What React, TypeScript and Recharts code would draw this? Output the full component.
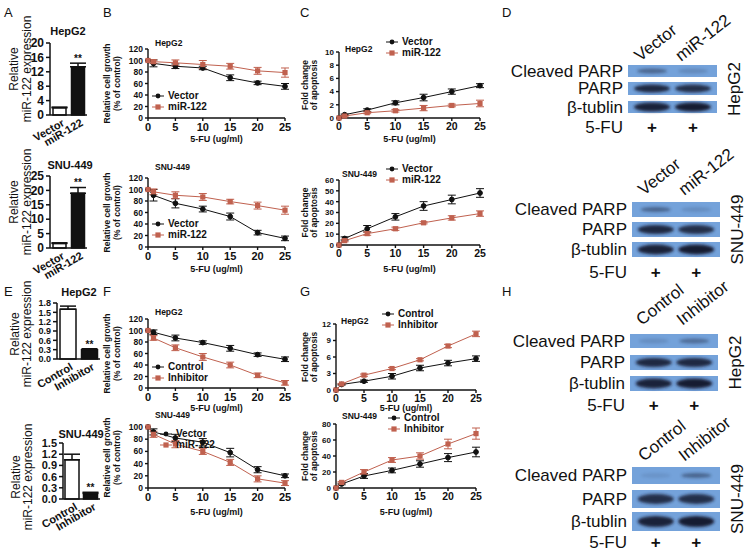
import { LineChart, Line, XAxis, YAxis, ErrorBar, BarChart, Bar, Cell, LabelList } from "recharts"

const FONT = 'Arial, "Liberation Sans", Helvetica, sans-serif'
const INK = "#111111"
const RED = "#c0614f"

// 5-FU doses (ug/ml)
const doses = [0, 1, 5, 10, 15, 20, 25]
const doseTicks = [0, 5, 10, 15, 20, 25]

// B: relative cell growth (% of control), miR-122 overexpression
const growthHepVector = [100, 95, 90, 87, 70, 61, 55]
const growthHepVectorErr = [0, 6, 4, 3, 5, 3, 5]
const growthHepMiR = [100, 98, 96, 93, 90, 82, 79]
const growthHepMiRErr = [0, 3, 5, 7, 5, 6, 8]
const growthSnuVector = [100, 90, 76, 66, 53, 25, 15]
const growthSnuVectorErr = [0, 10, 8, 5, 6, 4, 4]
const growthSnuMiR = [100, 96, 90, 87, 79, 72, 64]
const growthSnuMiRErr = [0, 5, 6, 6, 4, 6, 7]

// C: fold change of apoptosis, miR-122 overexpression
const apoHepVector = [0, 0.5, 1.2, 2.3, 3.1, 4.0, 4.9]
const apoHepVectorErr = [0, 0.1, 0.2, 0.3, 0.5, 0.4, 0.3]
const apoHepMiR = [0, 0.3, 0.8, 1.1, 1.5, 1.9, 2.2]
const apoHepMiRErr = [0, 0.1, 0.15, 0.2, 0.4, 0.2, 0.5]
const apoSnuVector = [0, 6, 15, 26, 36, 42, 48]
const apoSnuVectorErr = [0, 1.5, 3, 3, 4, 4, 4]
const apoSnuMiR = [0, 4, 10.5, 15, 20.5, 25, 29]
const apoSnuMiRErr = [0, 1, 1.5, 1.5, 1, 2, 2.5]

// F: relative cell growth, inhibitor
const growthHepControl = [100, 97, 87, 79, 69, 58, 50]
const growthHepControlErr = [0, 4, 5, 3, 5, 3, 4]
const growthHepInhibitor = [100, 87, 70, 54, 40, 22, 9]
const growthHepInhibitorErr = [0, 4, 5, 6, 5, 4, 4]
const growthSnuBlack = [100, 92, 82, 75, 58, 30, 20]
const growthSnuBlackErr = [0, 5, 6, 6, 7, 5, 3]
const growthSnuRed = [100, 88, 72, 60, 42, 15, 8]
const growthSnuRedErr = [0, 5, 6, 5, 5, 5, 4]

// G: fold change of apoptosis, inhibitor
const apoHepControl = [0, 1.0, 1.6, 2.5, 4.0, 4.9, 5.7]
const apoHepControlErr = [0, 0.1, 0.2, 0.5, 0.5, 0.5, 0.5]
const apoHepInhibitor = [0, 1.1, 2.7, 3.9, 5.5, 8.0, 10.2]
const apoHepInhibitorErr = [0, 0.1, 0.2, 0.2, 0.2, 0.3, 0.5]
const apoSnuControl = [0, 5, 15, 22, 30, 38, 45]
const apoSnuControlErr = [0, 1, 3, 3, 4, 5, 6]
const apoSnuInhibitor = [0, 7, 20, 35, 40, 55, 68]
const apoSnuInhibitorErr = [0, 1, 3, 3, 4, 6, 7]

// A / E: relative miR-122 expression
const overCats = ["Vector", "miR-122"]
const inhibCats = ["Control", "Inhibitor"]
const sigMarks = ["", "**"]
const exprHepA = [2.0, 13.4]
const exprHepAErr = [0.2, 1.0]
const exprSnuA = [1.6, 19.0]
const exprSnuAErr = [0.2, 2.0]
const exprHepE = [1.6, 0.3]
const exprHepEErr = [0.1, 0.03]
const exprSnuE = [1.05, 0.15]
const exprSnuEErr = [0.15, 0.03]

const rowsOf = (a: number[], aErr: number[], b: number[], bErr: number[]) =>
  doses.map((d, i) => ({ dose: d, a: a[i], aErr: aErr[i], b: b[i], bErr: bErr[i] }))

const barsOf = (cats: string[], vals: number[], errs: number[]) =>
  cats.map((c, i) => ({ name: c, value: vals[i], err: [0, errs[i]], sig: sigMarks[i] }))

function StackedYLabel(props: any) {
  const { viewBox, lines, xs, fontSize, fontWeight, dy = 0 } = props
  if (!viewBox) return null
  const cy = viewBox.y + viewBox.height / 2 + dy
  return (
    <g>
      {lines.map((t: string, i: number) => {
        const x = xs[i]
        return (
          <text key={i} x={x} y={cy} transform={`rotate(-90 ${x} ${cy})`} textAnchor="middle"
            dominantBaseline="central" fontSize={fontSize} fontWeight={fontWeight} fill={INK} fontFamily={FONT}>
            {t}
          </text>
        )
      })}
    </g>
  )
}

const squareDot = (color: string) => (p: any) => (
  <rect key={`sq-${p.index}`} x={p.cx - 2.6} y={p.cy - 2.6} width={5.2} height={5.2} fill={color} />
)

function LinePanel(props: any) {
  const { frame, plot, rows, yDomain, yTicks, yLabel, yLabelXs, yTickFont, xTickFont, title, legend } = props
  const [left, top, width, height] = frame
  const [x0, x1, y0, y1] = plot
  const axis = { stroke: INK, strokeWidth: 1.4 }
  return (
    <div style={{ position: "absolute", left, top }}>
      <LineChart width={width} height={height} data={rows}
        margin={{ top: y0 - top, right: left + width - x1, bottom: 0, left: 0 }}>
        <XAxis dataKey="dose" type="number" domain={[0, 25]} ticks={doseTicks} interval={0} height={top + height - y1}
          axisLine={axis} tickLine={axis} tickSize={3}
          tick={{ fontSize: xTickFont, fontWeight: 700, fill: INK, fontFamily: FONT }}
          label={{ value: "5-FU (ug/ml)", position: "insideBottom", offset: 3, fontSize: 9, fontWeight: 700, fill: INK, fontFamily: FONT }} />
        <YAxis width={x0 - left} domain={yDomain} ticks={yTicks} interval={0} axisLine={axis} tickLine={axis} tickSize={3}
          tick={{ fontSize: yTickFont, fontWeight: 700, fill: INK, fontFamily: FONT }}
          label={<StackedYLabel lines={yLabel} xs={yLabelXs} fontSize={8.5} fontWeight={700} />} />
        <Line dataKey="a" stroke={INK} strokeWidth={1} isAnimationActive={false}
          dot={{ r: 2.4, fill: INK, stroke: INK }}>
          <ErrorBar dataKey="aErr" width={4} stroke={INK} strokeWidth={1} direction="y" />
        </Line>
        <Line dataKey="b" stroke={RED} strokeWidth={1} isAnimationActive={false} dot={squareDot(RED)}>
          <ErrorBar dataKey="bErr" width={4} stroke={RED} strokeWidth={1} direction="y" />
        </Line>
      </LineChart>
      <div style={{ position: "absolute", left: title.x - left, top: title.y - top - 6, fontSize: 8.5, fontWeight: 700, fontFamily: FONT, color: INK, whiteSpace: "nowrap" }}>
        {title.text}
      </div>
      {legend.names.map((n: string, i: number) => (
        <div key={n} style={{ position: "absolute", left: legend.x - left, top: legend.y - top + i * 10.5 - 6, display: "flex", alignItems: "center", whiteSpace: "nowrap" }}>
          <svg width={12} height={12}>
            <line x1={0} y1={6} x2={12} y2={6} stroke={i === 0 ? INK : RED} strokeWidth={1} />
            {i === 0 ? <circle cx={6} cy={6} r={2.4} fill={INK} /> : <rect x={3.4} y={3.4} width={5.2} height={5.2} fill={RED} />}
          </svg>
          <span style={{ marginLeft: 4, fontSize: 10, fontWeight: 700, fontFamily: FONT, color: INK, lineHeight: "12px" }}>{n}</span>
        </div>
      ))}
    </div>
  )
}

const SlantTick = (props: any) => {
  const { x, y, payload } = props
  return (
    <text transform={`translate(${x + 6},${y + 2}) rotate(-30)`} textAnchor="end" fontSize={11} fontWeight={700}
      fill={INK} fontFamily={FONT}>
      {payload.value}
    </text>
  )
}

function BarPanel(props: any) {
  const { frame, plot, rows, yDomain, yTicks, title, barSize, starOffset, decimals, labelXs, labelDy, tickFont = 12 } = props
  const [left, top, width, height] = frame
  const [x0, x1, y0, y1] = plot
  const axis = { stroke: INK, strokeWidth: 1.5 }
  return (
    <div style={{ position: "absolute", left, top }}>
      <BarChart width={width} height={height} data={rows}
        margin={{ top: y0 - top, right: left + width - x1, bottom: 0, left: 0 }}>
        <XAxis dataKey="name" height={top + height - y1} axisLine={axis} tickLine={false} tick={<SlantTick />} interval={0} />
        <YAxis width={x0 - left} domain={yDomain} ticks={yTicks} interval={0} axisLine={axis} tickLine={axis} tickSize={4}
          tickFormatter={(v: number) => (decimals ? v.toFixed(decimals) : String(v))}
          tick={{ fontSize: tickFont, fontWeight: 700, fill: INK, fontFamily: FONT }}
          label={<StackedYLabel lines={["Relative", "miR-122 expression"]} xs={labelXs} dy={labelDy} fontSize={12} fontWeight={400} />} />
        <Bar dataKey="value" barSize={barSize} stroke={INK} strokeWidth={1.5} isAnimationActive={false}>
          {rows.map((r: any, i: number) => (
            <Cell key={r.name} fill={i === 0 ? "#ffffff" : INK} />
          ))}
          <ErrorBar dataKey="err" width={8} stroke={INK} strokeWidth={1.5} direction="y" />
          <LabelList dataKey="sig" position="top" offset={starOffset} fontSize={10} fontWeight={700} fill={INK} fontFamily={FONT} />
        </Bar>
      </BarChart>
      <div style={{ position: "absolute", left: title.x - left, top: title.y - top - 7, transform: "translateX(-50%)", fontSize: 11, fontWeight: 700, fontFamily: FONT, color: INK, whiteSpace: "nowrap" }}>
        {title.text}
      </div>
    </div>
  )
}

function Blot(props: any) {
  const { x0, x1, rows, cols, colY, side, fuY } = props
  const w = x1 - x0
  const lanes = [x0 + w * 0.27, x0 + w * 0.73]
  const midY = (rows[0].y0 + rows[rows.length - 1].y1) / 2
  const sx = x1 + 17
  return (
    <g fontFamily={FONT} fill={INK}>
      {rows.map((r: any) => (
        <g key={r.label}>
          <rect x={x0} y={r.y0} width={w} height={r.y1 - r.y0} fill="#74a2da" />
          {r.bands.map((a: number, i: number) => (
            <ellipse key={i} cx={lanes[i]} cy={(r.y0 + r.y1) / 2} rx={r.rx} ry={r.ry} fill="#141a33" opacity={a} filter="url(#blur)" />
          ))}
          <text x={x0 - 5} y={(r.y0 + r.y1) / 2} textAnchor="end" dominantBaseline="central" fontSize={17}>{r.label}</text>
        </g>
      ))}
      <text x={x0 - 5} y={fuY} textAnchor="end" dominantBaseline="central" fontSize={17}>5-FU</text>
      {lanes.map((lx, i) => (
        <text key={i} x={lx} y={fuY} textAnchor="middle" dominantBaseline="central" fontSize={17} fontWeight={700}>+</text>
      ))}
      {cols.map((c: string, i: number) => (
        <text key={c} transform={`translate(${lanes[i] - 12},${colY}) rotate(-38)`} fontSize={17}>{c}</text>
      ))}
      <text x={sx} y={midY} transform={`rotate(-90 ${sx} ${midY})`} textAnchor="middle" dominantBaseline="central" fontSize={17}>{side}</text>
    </g>
  )
}

const band = (label: string, y0: number, y1: number, bands: number[], rx: number, ry: number) => ({ label, y0, y1, bands, rx, ry })

const letters = [
  ["A", 4, 8], ["B", 103, 8], ["C", 300, 8], ["D", 502, 8],
  ["E", 4, 287], ["F", 103, 287], ["G", 300, 287], ["H", 502, 287],
] as const

export default function App() {
  const growthTicks = [0, 20, 40, 60, 80, 100, 120]
  const growthLabel = ["Relative cell growth", "(% of control)"]
  const apoLabel = ["Fold change", "of apoptosis"]
  return (
    <div style={{ position: "absolute", left: 0, top: 0, width: 750, height: 552, background: "#fff", fontFamily: FONT, overflow: "hidden" }}>
      {letters.map(([t, x, y]) => (
        <div key={t} style={{ position: "absolute", left: x, top: y - 3, fontSize: 13, color: INK }}>{t}</div>
      ))}

      <BarPanel frame={[0, 0, 100, 148]} plot={[50, 87, 43, 115]} rows={barsOf(overCats, exprHepA, exprHepAErr)} labelXs={[14, 27]} labelDy={-10}
        yDomain={[0, 20]} yTicks={[0, 4, 8, 12, 16, 20]} title={{ text: "HepG2", x: 68, y: 32 }} barSize={13} starOffset={5} />
      <BarPanel frame={[0, 140, 100, 140]} plot={[50, 87, 176, 248]} rows={barsOf(overCats, exprSnuA, exprSnuAErr)} labelXs={[14, 27]} labelDy={-10}
        yDomain={[0, 25]} yTicks={[0, 5, 10, 15, 20, 25]} title={{ text: "SNU-449", x: 70, y: 166 }} barSize={13} starOffset={7} />
      <BarPanel frame={[0, 272, 105, 123]} plot={[57, 100, 303, 359]} rows={barsOf(inhibCats, exprHepE, exprHepEErr)} labelXs={[15, 27]} labelDy={3}
        yDomain={[0, 1.8]} yTicks={[0, 0.3, 0.6, 0.9, 1.2, 1.5, 1.8]} decimals={1} tickFont={9} title={{ text: "HepG2", x: 79, y: 293 }} barSize={16} starOffset={2} />
      <BarPanel frame={[0, 415, 105, 135]} plot={[63, 100, 443, 499]} rows={barsOf(inhibCats, exprSnuE, exprSnuEErr)} labelXs={[16, 28]} labelDy={6}
        yDomain={[0, 1.5]} yTicks={[0, 0.3, 0.6, 0.9, 1.2, 1.5]} decimals={1} tickFont={11} title={{ text: "SNU-449", x: 81, y: 435 }} barSize={14} starOffset={2} />

      <LinePanel frame={[100, 20, 195, 125]} plot={[148, 285, 49, 118]}
        rows={rowsOf(growthHepVector, growthHepVectorErr, growthHepMiR, growthHepMiRErr)}
        yDomain={[0, 120]} yTicks={growthTicks} yLabel={growthLabel} yLabelXs={[7, 17]} yTickFont={8.5} xTickFont={11}
        title={{ text: "HepG2", x: 155, y: 44 }} legend={{ names: ["Vector", "miR-122"], x: 152, y: 96 }} />
      <LinePanel frame={[100, 150, 195, 125]} plot={[148, 285, 178, 247]}
        rows={rowsOf(growthSnuVector, growthSnuVectorErr, growthSnuMiR, growthSnuMiRErr)}
        yDomain={[0, 120]} yTicks={growthTicks} yLabel={growthLabel} yLabelXs={[7, 17]} yTickFont={8.5} xTickFont={11}
        title={{ text: "SNU-449", x: 155, y: 168 }} legend={{ names: ["Vector", "miR-122"], x: 152, y: 224 }} />
      <LinePanel frame={[100, 295, 195, 119]} plot={[148, 285, 319, 388]}
        rows={rowsOf(growthHepControl, growthHepControlErr, growthHepInhibitor, growthHepInhibitorErr)}
        yDomain={[0, 120]} yTicks={growthTicks} yLabel={growthLabel} yLabelXs={[7, 17]} yTickFont={8.5} xTickFont={11}
        title={{ text: "HepG2", x: 155, y: 313 }} legend={{ names: ["Control", "Inhibitor"], x: 152, y: 367 }} />
      <LinePanel frame={[100, 405, 195, 113]} plot={[148, 285, 427, 488]}
        rows={rowsOf(growthSnuBlack, growthSnuBlackErr, growthSnuRed, growthSnuRedErr)}
        yDomain={[0, 100]} yTicks={[0, 20, 40, 60, 80, 100]} yLabel={growthLabel} yLabelXs={[7, 17]} yTickFont={8.5} xTickFont={11}
        title={{ text: "SNU-449", x: 155, y: 416 }} legend={{ names: ["Vector", "miR-122"], x: 160, y: 434 }} />

      <LinePanel frame={[300, 20, 190, 125]} plot={[339, 480, 52, 118]}
        rows={rowsOf(apoHepVector, apoHepVectorErr, apoHepMiR, apoHepMiRErr)}
        yDomain={[0, 10]} yTicks={[0, 2, 4, 6, 8, 10]} yLabel={apoLabel} yLabelXs={[5, 14]} yTickFont={8} xTickFont={10.5}
        title={{ text: "HepG2", x: 345, y: 50 }} legend={{ names: ["Vector", "miR-122"], x: 386, y: 42 }} />
      <LinePanel frame={[300, 150, 190, 125]} plot={[339, 480, 180, 245]}
        rows={rowsOf(apoSnuVector, apoSnuVectorErr, apoSnuMiR, apoSnuMiRErr)}
        yDomain={[0, 60]} yTicks={[0, 10, 20, 30, 40, 50, 60]} yLabel={apoLabel} yLabelXs={[5, 14]} yTickFont={8} xTickFont={10.5}
        title={{ text: "SNU-449", x: 342, y: 175 }} legend={{ names: ["Vector", "miR-122"], x: 386, y: 169 }} />
      <LinePanel frame={[300, 295, 186, 119]} plot={[336, 476, 324, 390]}
        rows={rowsOf(apoHepControl, apoHepControlErr, apoHepInhibitor, apoHepInhibitorErr)}
        yDomain={[0, 12]} yTicks={[0, 3, 6, 9, 12]} yLabel={apoLabel} yLabelXs={[5, 14]} yTickFont={8} xTickFont={10.5}
        title={{ text: "HepG2", x: 341, y: 322 }} legend={{ names: ["Control", "Inhibitor"], x: 382, y: 314 }} />
      <LinePanel frame={[300, 405, 186, 113]} plot={[336, 476, 424, 488]}
        rows={rowsOf(apoSnuControl, apoSnuControlErr, apoSnuInhibitor, apoSnuInhibitorErr)}
        yDomain={[0, 80]} yTicks={[0, 20, 40, 60, 80]} yLabel={apoLabel} yLabelXs={[5, 14]} yTickFont={8} xTickFont={10.5}
        title={{ text: "SNU-449", x: 342, y: 417 }} legend={{ names: ["Control", "Inhibitor"], x: 388, y: 418 }} />

      <svg width={750} height={552} style={{ position: "absolute", left: 0, top: 0, pointerEvents: "none" }}>
        <defs>
          <filter id="blur" x="-50%" y="-100%" width="200%" height="300%">
            <feGaussianBlur stdDeviation="1.6" />
          </filter>
        </defs>
        <Blot x0={628} x1={717} colY={62} fuY={127} side="HepG2" cols={["Vector", "miR-122"]}
          rows={[band("Cleaved PARP", 65, 77, [0.45, 0.18], 15, 2.5), band("PARP", 82, 95, [0.9, 0.85], 18, 4), band("β-tublin", 101, 113, [0.95, 1], 18, 4.5)]} />
        <Blot x0={632} x1={720} colY={196} fuY={272} side="SNU-449" cols={["Vector", "miR-122"]}
          rows={[band("Cleaved PARP", 202, 217, [0.45, 0.15], 15, 2.5), band("PARP", 222, 237, [0.9, 0.85], 18, 4.5), band("β-tublin", 242, 257, [0.95, 1], 18, 5)]} />
        <Blot x0={630} x1={718} colY={326} fuY={405} side="HepG2" cols={["Control", "Inhibitor"]}
          rows={[band("Cleaved PARP", 334, 348, [0.15, 0.4], 15, 2.5), band("PARP", 355, 370, [0.9, 0.9], 18, 4.5), band("β-tublin", 376, 391, [0.95, 1], 18, 5)]} />
        <Blot x0={632} x1={720} colY={462} fuY={542} side="SNU-449" cols={["Control", "Inhibitor"]}
          rows={[band("Cleaved PARP", 467, 484, [0.1, 0.45], 15, 2.5), band("PARP", 490, 508, [0.85, 0.85], 18, 5), band("β-tublin", 512, 531, [0.95, 1], 18, 5.5)]} />
      </svg>
    </div>
  )
}
